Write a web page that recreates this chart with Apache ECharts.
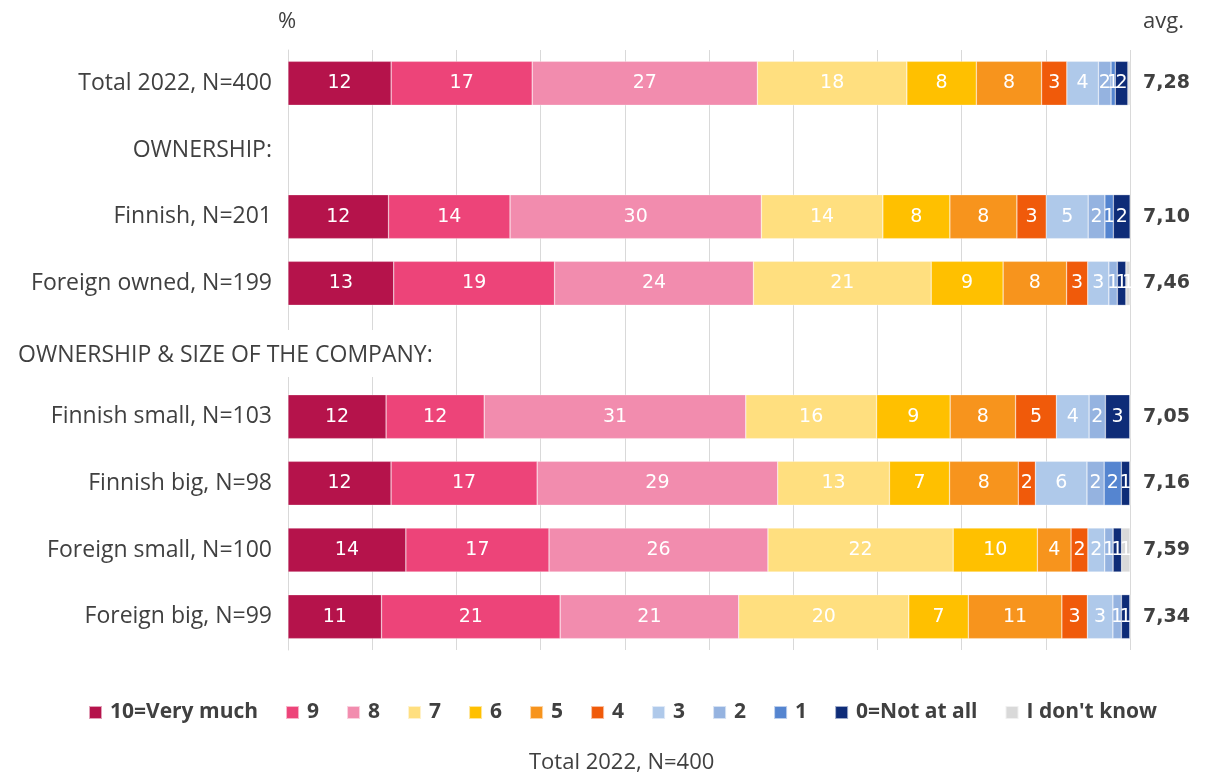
<!DOCTYPE html>
<html>
<head>
<meta charset="utf-8">
<script src="https://cdn.jsdelivr.net/npm/echarts@6/dist/echarts.min.js"></script>
<style>
  html, body { margin: 0; padding: 0; background: #ffffff; }
  #chart { width: 1209px; height: 776px; }
</style>
</head>
<body>
<div id="chart"></div>
<script>
// Row labels (top to bottom); empty strings are section header rows
const categories = [
  'Total 2022, N=400',
  'OWNERSHIP:',
  'Finnish, N=201',
  'Foreign owned, N=199',
  '',
  'Finnish small, N=103',
  'Finnish big, N=98',
  'Foreign small, N=100',
  'Foreign big, N=99'
];
const sectionTitle = 'OWNERSHIP & SIZE OF THE COMPANY:';

// Average score per row, shown at the right edge
const averages = ['7,28', '', '7,10', '7,46', '', '7,05', '7,16', '7,59', '7,34'];

const answerNames = ['10=Very much', '9', '8', '7', '6', '5', '4', '3', '2', '1', '0=Not at all', "I don't know"];
const answerColors = ['#b5134b', '#ed4479', '#f28cae', '#ffdf7f', '#ffc000', '#f7941d',
                      '#f05a0a', '#afc9ea', '#95b3e0', '#5585d0', '#0e2c78', '#d9d9d9'];

// Share of answers (%) per row, one array per answer option
const ans10 = [12.25, null, 11.94, 12.56, null, 11.65, 12.24, 14, 11.11];
const ans9  = [16.75, null, 14.43, 19.10, null, 11.65, 17.35, 17, 21.21];
const ans8  = [26.75, null, 29.85, 23.62, null, 31.07, 28.57, 26, 21.21];
const ans7  = [17.75, null, 14.43, 21.11, null, 15.53, 13.27, 22, 20.20];
const ans6  = [8.25,  null, 7.96,  8.54,  null, 8.74,  7.14,  10, 7.07];
const ans5  = [7.75,  null, 7.96,  7.54,  null, 7.77,  8.16,  4,  11.11];
const ans4  = [3.00,  null, 3.48,  2.51,  null, 4.85,  2.04,  2,  3.03];
const ans3  = [3.75,  null, 4.98,  2.51,  null, 3.88,  6.12,  2,  3.03];
const ans2  = [1.50,  null, 1.99,  1.01,  null, 1.94,  2.04,  1,  1.01];
const ans1  = [0.50,  null, 1.00,  0,     null, 0,     2.04,  0,  0];
const ans0  = [1.50,  null, 1.99,  1.01,  null, 2.91,  1.02,  1,  1.01];
const ansDK = [0.25,  null, 0,     0.50,  null, 0,     0,     1,  0];

const answerValues = [ans10, ans9, ans8, ans7, ans6, ans5, ans4, ans3, ans2, ans1, ans0, ansDK];

const FONT = '"Open Sans", Lato, sans-serif';
const NUM_FONT = '"DejaVu Sans", Verdana, sans-serif';
const TEXT = '#404040';

const chart = echarts.init(document.getElementById('chart'), null, { renderer: 'canvas' });

const series = answerNames.map((name, i) => ({
  name: name,
  type: 'bar',
  stack: 'all',
  barWidth: 44,
  data: answerValues[i],
  itemStyle: { color: answerColors[i], borderColor: 'rgba(255,255,255,0.6)', borderWidth: 0.5 },
  label: {
    show: true,
    position: 'inside',
    color: '#ffffff',
    fontFamily: NUM_FONT,
    fontSize: 19,
    formatter: p => {
      const r = Math.round(p.value);
      return r >= 1 ? String(r) : '';
    }
  },
  emphasis: { disabled: true }
}));

chart.setOption({
  animation: false,
  backgroundColor: '#ffffff',
  grid: { left: 288, right: 79, top: 50, bottom: 126, containLabel: false },
  xAxis: {
    type: 'value',
    min: 0,
    max: 100,
    interval: 10,
    axisLabel: { show: false },
    axisTick: { show: false },
    axisLine: { show: false },
    splitLine: { show: true, lineStyle: { color: '#d9d9d9', width: 1 } }
  },
  yAxis: [
    {
      type: 'category',
      data: categories,
      inverse: true,
      axisTick: { show: false },
      axisLine: { show: true, lineStyle: { color: '#d9d9d9' } },
      axisLabel: { color: TEXT, fontFamily: FONT, fontSize: 23, margin: 16 }
    },
    {
      type: 'category',
      data: averages,
      inverse: true,
      position: 'right',
      axisTick: { show: false },
      axisLine: { show: false },
      axisLabel: { color: TEXT, fontFamily: NUM_FONT, fontSize: 19, fontWeight: 'bold', margin: 13, align: 'left' }
    }
  ],
  legend: {
    data: answerNames,
    left: 83,
    top: 697,
    icon: 'rect',
    itemWidth: 13,
    itemHeight: 13,
    itemGap: 27,
    textStyle: { color: TEXT, fontFamily: FONT, fontSize: 21, fontWeight: 'bold', padding: [0, 0, 0, 3] }
  },
  graphic: [
    { type: 'text', left: 278, top: 11, style: { text: '%', fill: TEXT, font: '22px ' + FONT } },
    { type: 'text', left: 1143, top: 11, style: { text: 'avg.', fill: TEXT, font: '22px ' + FONT } },
    {
      type: 'text', left: 14, top: 330, z: 10,
      style: {
        text: sectionTitle, fill: TEXT, font: '23px ' + FONT,
        backgroundColor: '#ffffff', padding: [14, 6, 10, 4]
      }
    },
    { type: 'text', left: 529, top: 752, style: { text: 'Total 2022, N=400', fill: TEXT, font: '22px ' + FONT } }
  ],
  series: series
});
</script>
</body>
</html>
